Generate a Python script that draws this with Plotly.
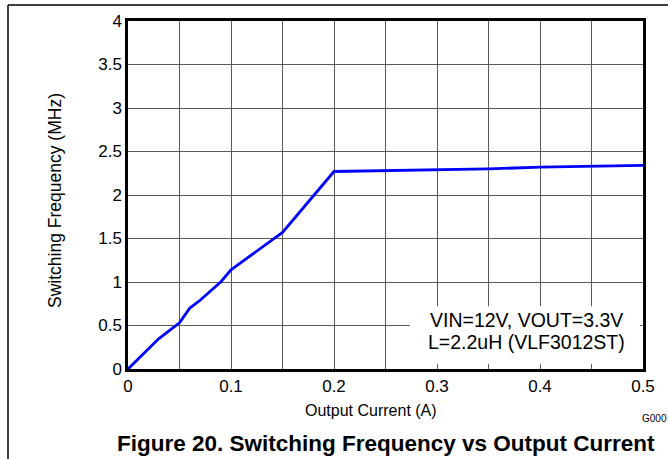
import plotly.graph_objects as go

current_a = [0, 0.03, 0.05, 0.06, 0.07, 0.08, 0.09, 0.10, 0.15, 0.20, 0.30, 0.35, 0.40, 0.45, 0.50]
freq_mhz = [0, 0.35, 0.53, 0.70, 0.79, 0.89, 1.00, 1.14, 1.57, 2.27, 2.285, 2.30, 2.32, 2.33, 2.34]

x_ticks = [0, 0.1, 0.2, 0.3, 0.4, 0.5]
x_ticklabels = ["0", "0.1", "0.2", "0.3", "0.4", "0.5"]
y_ticks = [0, 0.5, 1, 1.5, 2, 2.5, 3, 3.5, 4]
y_ticklabels = ["0", "0.5", "1", "1.5", "2", "2.5", "3", "3.5", "4"]

W, H = 668, 459
L, R, T, B = 128, 25, 19, 90
pw, ph = W - L - R, H - T - B

def px(xp):
    return (xp - L) / pw

def py(yp):
    return (H - B - yp) / ph

FONT = "Liberation Sans, Arial, sans-serif"

fig = go.Figure()
fig.add_trace(go.Scatter(x=current_a, y=freq_mhz, mode="lines",
                         line=dict(color="#0000FF", width=2.8), showlegend=False,
                         hoverinfo="skip"))

fig.update_layout(
    width=W, height=H,
    margin=dict(l=L, r=R, t=T, b=B),
    paper_bgcolor="white", plot_bgcolor="white",
    font=dict(family=FONT, color="black"),
    xaxis=dict(range=[0, 0.5], tickvals=x_ticks, ticktext=x_ticklabels,
               showgrid=True, gridcolor="#5a5a5a", gridwidth=1,
               minor=dict(dtick=0.05, showgrid=True, gridcolor="#5a5a5a", gridwidth=1,
                          ticks="inside", ticklen=5, tickcolor="#5a5a5a"),
               ticks="inside", ticklen=5, tickcolor="#5a5a5a",
               showline=True, linecolor="black", linewidth=2.5, mirror=True,
               zeroline=False, tickfont=dict(size=17, family=FONT)),
    yaxis=dict(range=[0, 4], tickvals=y_ticks, ticktext=y_ticklabels,
               showgrid=True, gridcolor="#5a5a5a", gridwidth=1,
               showline=True, linecolor="black", linewidth=2.5, mirror=True,
               zeroline=False, tickfont=dict(size=17, family=FONT), ticks=""),
)

# axis titles
fig.add_annotation(xref="paper", yref="paper", x=px(371), y=py(411),
                   text="Output Current (A)", showarrow=False,
                   font=dict(size=16, family=FONT), xanchor="center", yanchor="middle")
fig.add_annotation(xref="paper", yref="paper", x=px(55), y=py(200),
                   text="Switching Frequency (MHz)", showarrow=False, textangle=-90,
                   font=dict(size=17.5, family=FONT), xanchor="center", yanchor="middle")

# white box behind annotation text (covers gridlines)
fig.add_shape(type="rect", xref="paper", yref="paper",
              x0=px(410), x1=px(640), y0=py(364), y1=py(306),
              fillcolor="white", line=dict(width=0), layer="above")

fig.add_annotation(xref="paper", yref="paper", x=px(526), y=py(320),
                   text="VIN=12V, VOUT=3.3V", showarrow=False,
                   font=dict(size=19.5, family=FONT), xanchor="center", yanchor="middle")
fig.add_annotation(xref="paper", yref="paper", x=px(526), y=py(342),
                   text="L=2.2uH (VLF3012ST)", showarrow=False,
                   font=dict(size=19.5, family=FONT), xanchor="center", yanchor="middle")

fig.add_annotation(xref="paper", yref="paper", x=px(654), y=py(419),
                   text="G000", showarrow=False,
                   font=dict(size=10, family=FONT), xanchor="center", yanchor="middle")

fig.add_annotation(xref="paper", yref="paper", x=px(386), y=py(444),
                   text="<b>Figure 20. Switching Frequency vs Output Current</b>", showarrow=False,
                   font=dict(size=22.5, family=FONT), xanchor="center", yanchor="middle")

# outer frame lines (left and top)
fig.add_shape(type="line", xref="paper", yref="paper",
              x0=px(8), x1=px(8), y0=py(3), y1=py(H + 5),
              line=dict(color="black", width=1.5))
fig.add_shape(type="line", xref="paper", yref="paper",
              x0=px(8), x1=px(W + 5), y0=py(3), y1=py(3),
              line=dict(color="black", width=1.5))

fig.write_html("out.html", config={"displayModeBar": False},
               post_script="document.body.style.margin='0';document.body.style.overflow='hidden';")
